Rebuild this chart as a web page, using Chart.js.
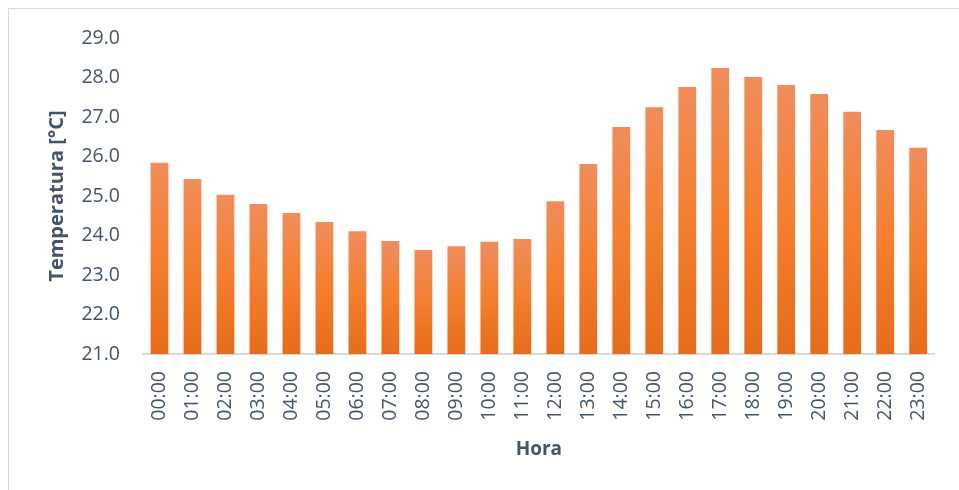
<!DOCTYPE html>
<html>
<head>
<meta charset="utf-8">
<script src="https://cdn.jsdelivr.net/npm/chart.js@4.4.1/dist/chart.umd.min.js"></script>
<style>
  html, body { margin: 0; padding: 0; background: #fff; }
  #wrap { position: relative; width: 959px; height: 490px; }
</style>
</head>
<body>
<div id="wrap"><canvas id="chart" width="959" height="490"></canvas></div>
<script>
// Hourly average temperature
const hours = ['00:00', '01:00', '02:00', '03:00', '04:00', '05:00', '06:00', '07:00',
    '08:00', '09:00', '10:00', '11:00', '12:00', '13:00', '14:00', '15:00',
    '16:00', '17:00', '18:00', '19:00', '20:00', '21:00', '22:00', '23:00'];
const temperatures = [25.84, 25.43, 25.03, 24.80, 24.57, 24.34, 24.11, 23.86,
    23.63, 23.73, 23.84, 23.91, 24.87, 25.81, 26.75, 27.25,
    27.76, 28.24, 28.01, 27.81, 27.58, 27.13, 26.67, 26.22];
const yMin = 21;
const yMax = 29;
const yStep = 1;

const textColor = '#44546A';
const lineColor = '#D9D9D9';

// per-bar vertical gradient: light top, vivid middle, darker bottom
function barGradient(context) {
    const chart = context.chart;
    const { ctx, chartArea, scales } = chart;
    if (!chartArea || context.dataIndex === undefined) return '#F47F2F';
    const top = scales.y.getPixelForValue(temperatures[context.dataIndex]);
    const bottom = scales.y.getPixelForValue(yMin);
    if (!isFinite(top) || bottom - top < 1) return '#F47F2F';
    const g = ctx.createLinearGradient(0, top, 0, bottom);
    g.addColorStop(0, '#F08D5C');
    g.addColorStop(0.5, '#F47F2E');
    g.addColorStop(1, '#E56C1B');
    return g;
}

const frame = {
    id: 'frame',
    beforeDraw(chart) {
        const ctx = chart.ctx;
        ctx.save();
        ctx.strokeStyle = lineColor;
        ctx.lineWidth = 1;
        ctx.strokeRect(8.5, 8.5, 970, 500);
        ctx.restore();
    }
};

new Chart(document.getElementById('chart'), {
    type: 'bar',
    data: {
        labels: hours,
        datasets: [{
            label: 'Temperatura',
            data: temperatures,
            backgroundColor: barGradient,
            barPercentage: 0.54,
            categoryPercentage: 1.0
        }]
    },
    options: {
        responsive: false,
        animation: false,
        layout: { padding: { top: 38, right: 20, left: 0, bottom: 0 } },
        plugins: {
            legend: { display: false },
            tooltip: { enabled: false }
        },
        scales: {
            x: {
                grid: { display: false, drawTicks: false },
                border: { display: true, color: lineColor, width: 2 },
                ticks: {
                    color: textColor,
                    font: { family: 'Open Sans', size: 19.5 },
                    minRotation: 90,
                    maxRotation: 90,
                    padding: 17,
                    autoSkip: false
                },
                title: {
                    display: true,
                    text: 'Hora',
                    color: textColor,
                    font: { family: 'Open Sans', size: 19, weight: 'bold' },
                    padding: { top: 0, bottom: 29 }
                },
                afterFit(scale) { scale.height = 136; }
            },
            y: {
                min: yMin,
                max: yMax,
                grid: { display: false, drawTicks: false },
                border: { display: false },
                ticks: {
                    stepSize: yStep,
                    color: textColor,
                    font: { family: 'Open Sans', size: 19.5 },
                    padding: 23,
                    callback: (v) => Number(v).toFixed(1)
                },
                title: {
                    display: true,
                    text: 'Temperatura [°C]',
                    color: textColor,
                    font: { family: 'Open Sans', size: 20, weight: 'bold' },
                    padding: { top: 45, bottom: 0 }
                },
                afterFit(scale) { scale.width = 143; }
            }
        }
    },
    plugins: [frame]
});
</script>
</body>
</html>
